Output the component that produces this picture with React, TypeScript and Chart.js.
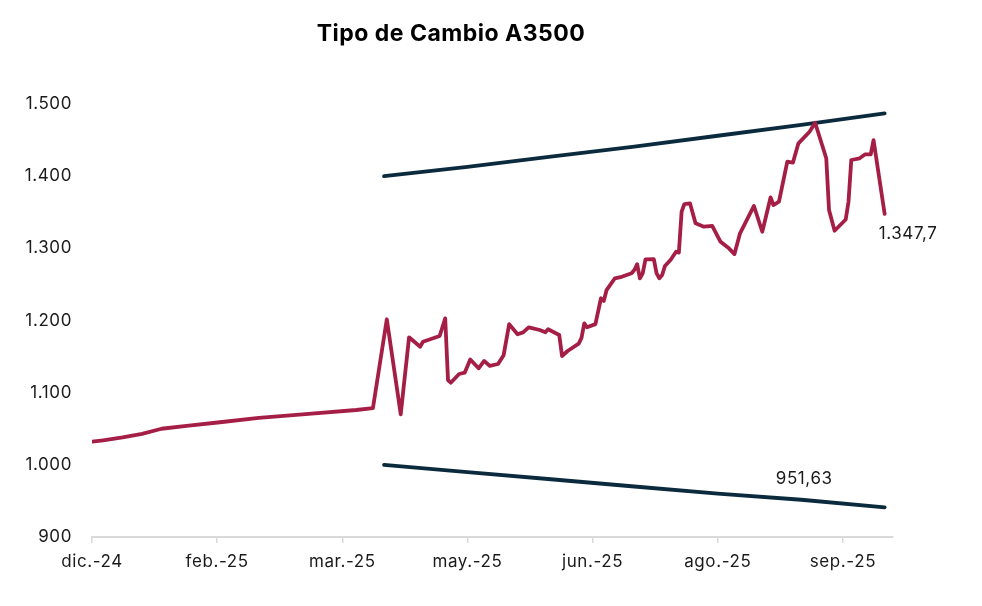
import React, { useEffect, useRef } from "react";
import { Chart, registerables } from "chart.js";

Chart.register(...registerables);

const chartTitle = "Tipo de Cambio A3500";

// x values are calendar days counted from 30-dic-2024
const xTickDays = [0, 45, 90, 135, 180, 225, 270];
const xTickLabels = ["dic.-24", "feb.-25", "mar.-25", "may.-25", "jun.-25", "ago.-25", "sep.-25"];
const xMaxDay = 288;

const yMin = 900;
const yMax = 1500;
const yStep = 100;

const fxDays = [
  0, 4, 11, 18, 25, 34, 46, 60, 79, 95, 101,
  106, 111, 114, 118, 119, 125, 127, 128, 129, 132, 134, 136, 139, 141, 143, 146, 148,
  150, 153, 155, 157, 161, 163, 164, 168, 169, 171, 175, 176, 177, 178, 181, 183, 184, 185,
  188, 190, 194, 195, 196, 197, 198, 199, 202, 203, 204, 205, 206, 208, 210, 211, 212, 213,
  215, 217, 220, 223, 226, 229, 231, 233, 238, 241, 244, 245, 247, 250, 252, 254, 258, 260,
  264, 265, 267, 271, 272, 273, 276, 278, 280, 281, 285,
];
const fxValues = [
  1032, 1034, 1038, 1043, 1050, 1054, 1059, 1065, 1071, 1076, 1078.5,
  1201.7, 1070, 1176.7, 1163.7, 1170.6, 1178.5, 1203, 1117.5, 1113.8, 1125.9, 1127.7, 1146, 1133.8, 1144, 1137, 1139.7, 1152,
  1195, 1181, 1183.6, 1190.6, 1186.8, 1183.6, 1187.8, 1180, 1150.8, 1157.7, 1168, 1176, 1196, 1190.6, 1195, 1230.8, 1227, 1242,
  1258.5, 1260, 1265.4, 1270, 1278, 1258.5, 1265.4, 1284.8, 1285, 1265.4, 1258.5, 1263, 1275.5, 1283.8, 1295.3, 1294, 1350.8, 1361.4,
  1362.4, 1334.7, 1330, 1331, 1309, 1300, 1292, 1320.8, 1358.7, 1323, 1370.7, 1360, 1364.6, 1420, 1418.7, 1445.5, 1461.6, 1474,
  1424.8, 1353, 1324.4, 1340, 1364.6, 1422.4, 1424.8, 1430.3, 1430.3, 1450, 1347.7,
];

const bandDays = [105, 135, 165, 195, 225, 255, 285];
const upperBand = [1400, 1413, 1427, 1441, 1456, 1471, 1487];
const lowerBand = [1000, 990, 980, 970, 960, 951.6, 941];

const fxLastLabel = "1.347,7";
const lowerBandLabel = "951,63";
const lowerBandLabelIndex = 5;

const RED = "#a51e45";
const NAVY = "#0b2a3d";
const FONT = "Inter, 'Open Sans', sans-serif";

function fmtThousands(v: number): string {
  return String(v).replace(/\B(?=(\d{3})+(?!\d))/g, ".");
}

const toXY = (xs: number[], ys: number[]) => xs.map((x, i) => ({ x, y: ys[i] }));

const overlayPlugin = {
  id: "overlay",
  beforeDraw(chart: any) {
    (chart.ctx as any).letterSpacing = "0.6px";
  },
  afterDatasetsDraw(chart: any) {
    const ctx = chart.ctx;
    ctx.save();
    // title
    ctx.fillStyle = "#000";
    ctx.font = `bold 23px ${FONT}`;
    (ctx as any).letterSpacing = "0.5px";
    ctx.textAlign = "center";
    ctx.textBaseline = "middle";
    ctx.fillText(chartTitle, 451, 34);

    ctx.font = `17px ${FONT}`;
    (ctx as any).letterSpacing = "0.6px";
    ctx.fillStyle = "#1a1a1a";
    // last fx value label
    const fxMeta = chart.getDatasetMeta(0);
    const lastPt = fxMeta.data[fxMeta.data.length - 1];
    if (lastPt) {
      ctx.textAlign = "left";
      ctx.textBaseline = "middle";
      ctx.fillText(fxLastLabel, lastPt.x - 6, lastPt.y + 20);
    }
    // lower band label
    const lowMeta = chart.getDatasetMeta(2);
    const lp = lowMeta.data[lowerBandLabelIndex];
    if (lp) {
      ctx.textAlign = "center";
      ctx.textBaseline = "middle";
      ctx.fillText(lowerBandLabel, lp.x + 3, lp.y - 21);
    }
    ctx.restore();
  },
  afterDraw(chart: any) {
    (chart.ctx as any).letterSpacing = "0px";
  },
};

export default function App() {
  const canvasRef = useRef<HTMLCanvasElement | null>(null);

  useEffect(() => {
    if (!canvasRef.current) return;
    const chart = new Chart(canvasRef.current, {
      type: "line",
      data: {
        datasets: [
          {
            label: "A3500",
            data: toXY(fxDays, fxValues),
            borderColor: RED,
            borderWidth: 3.8,
            pointRadius: 0,
            tension: 0,
            borderJoinStyle: "round",
            borderCapStyle: "round",
          },
          {
            label: "Banda superior",
            data: toXY(bandDays, upperBand),
            borderColor: NAVY,
            borderWidth: 3.8,
            pointRadius: 0,
            tension: 0,
            borderCapStyle: "round",
          },
          {
            label: "Banda inferior",
            data: toXY(bandDays, lowerBand),
            borderColor: NAVY,
            borderWidth: 3.8,
            pointRadius: 0,
            tension: 0,
            borderCapStyle: "round",
          },
        ],
      },
      options: {
        animation: false,
        responsive: false,
        maintainAspectRatio: false,
        layout: { padding: { top: 104, right: 89, left: 0, bottom: 0 } },
        plugins: {
          legend: { display: false },
          title: { display: false },
          tooltip: { enabled: false },
        },
        scales: {
          x: {
            type: "linear",
            min: 0,
            max: xMaxDay,
            afterBuildTicks: (scale: any) => {
              scale.ticks = xTickDays.map((v) => ({ value: v }));
            },
            afterFit: (scale: any) => {
              scale.height = 69;
            },
            grid: {
              drawOnChartArea: false,
              drawTicks: true,
              tickLength: 6,
              color: "#d9d9d9",
              lineWidth: 1.5,
            },
            border: { display: true, color: "#d9d9d9", width: 2 },
            ticks: {
              autoSkip: false,
              maxRotation: 0,
              padding: 9,
              color: "#1a1a1a",
              font: { family: FONT, size: 17 },
              callback: (value: any) => {
                const i = xTickDays.indexOf(Number(value));
                return i >= 0 ? xTickLabels[i] : "";
              },
            },
          },
          y: {
            min: yMin,
            max: yMax,
            afterFit: (scale: any) => {
              scale.width = 92;
            },
            grid: { display: false, drawTicks: false },
            border: { display: false },
            ticks: {
              stepSize: yStep,
              padding: 20,
              color: "#1a1a1a",
              font: { family: FONT, size: 17 },
              callback: (value: any) => fmtThousands(Number(value)),
            },
          },
        },
      },
      plugins: [overlayPlugin],
    });
    return () => chart.destroy();
  }, []);

  return (
    <div style={{ position: "fixed", left: 0, top: 0, width: 982, height: 606, background: "#fff" }}>
      <canvas ref={canvasRef} width={982} height={606} style={{ width: 982, height: 606 }} />
    </div>
  );
}
